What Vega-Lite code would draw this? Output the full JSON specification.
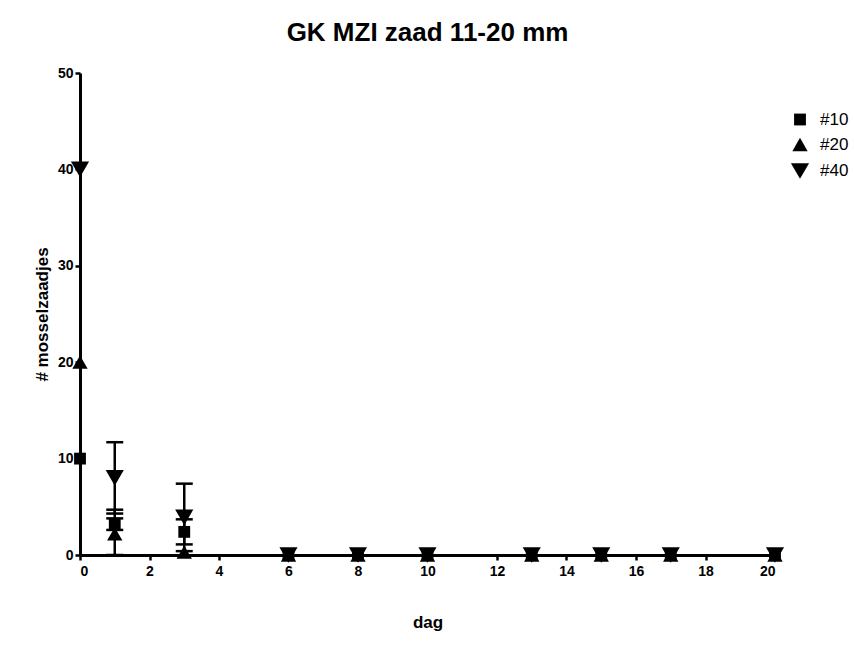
{
  "$schema": "https://vega.github.io/schema/vega-lite/v6.json",
  "width": 695,
  "height": 482,
  "autosize": {"type": "none"},
  "padding": {"left": 80, "top": 73, "right": 79, "bottom": 98},
  "background": "white",
  "title": {
    "text": "GK MZI zaad 11-20 mm",
    "font": "Liberation Sans",
    "fontSize": 26,
    "fontWeight": "bold",
    "color": "black",
    "anchor": "middle",
    "offset": 20
  },
  "config": {
    "view": {"stroke": null},
    "axis": {
      "grid": false,
      "domainColor": "black",
      "domainWidth": 3,
      "tickColor": "black",
      "tickWidth": 2.5,
      "tickSize": 5,
      "labelFont": "Liberation Sans",
      "labelFontWeight": "bold",
      "labelFontSize": 14,
      "labelColor": "black",
      "titleFont": "Liberation Sans",
      "titleFontWeight": "bold",
      "titleFontSize": 17,
      "titleColor": "black"
    }
  },
  "datasets": {
    "pts": [
      {"dag": 0, "groep": "#10", "n": 10},
      {"dag": 0, "groep": "#20", "n": 20},
      {"dag": 0, "groep": "#40", "n": 40},
      {"dag": 1, "groep": "#10", "n": 3.2},
      {"dag": 1, "groep": "#20", "n": 2.2},
      {"dag": 1, "groep": "#40", "n": 8.0},
      {"dag": 3, "groep": "#10", "n": 2.4},
      {"dag": 3, "groep": "#20", "n": 0.3},
      {"dag": 3, "groep": "#40", "n": 3.9},
      {"dag": 6, "groep": "#10", "n": 0},
      {"dag": 6, "groep": "#20", "n": 0},
      {"dag": 6, "groep": "#40", "n": 0},
      {"dag": 8, "groep": "#10", "n": 0},
      {"dag": 8, "groep": "#20", "n": 0},
      {"dag": 8, "groep": "#40", "n": 0},
      {"dag": 10, "groep": "#10", "n": 0},
      {"dag": 10, "groep": "#20", "n": 0},
      {"dag": 10, "groep": "#40", "n": 0},
      {"dag": 13, "groep": "#10", "n": 0},
      {"dag": 13, "groep": "#20", "n": 0},
      {"dag": 13, "groep": "#40", "n": 0},
      {"dag": 15, "groep": "#10", "n": 0},
      {"dag": 15, "groep": "#20", "n": 0},
      {"dag": 15, "groep": "#40", "n": 0},
      {"dag": 17, "groep": "#10", "n": 0},
      {"dag": 17, "groep": "#20", "n": 0},
      {"dag": 17, "groep": "#40", "n": 0},
      {"dag": 20, "groep": "#10", "n": 0},
      {"dag": 20, "groep": "#20", "n": 0},
      {"dag": 20, "groep": "#40", "n": 0}
    ],
    "err": [
      {"dag": 1, "groep": "#10", "lo": 2.6, "hi": 3.8},
      {"dag": 1, "groep": "#20", "lo": 0, "hi": 4.7},
      {"dag": 1, "groep": "#40", "lo": 4.3, "hi": 11.7},
      {"dag": 3, "groep": "#10", "lo": 1.1, "hi": 3.7},
      {"dag": 3, "groep": "#40", "lo": 0.4, "hi": 7.4}
    ]
  },
  "encoding": {
    "x": {
      "field": "dag",
      "type": "quantitative",
      "scale": {"domain": [0, 20], "nice": false, "zero": false},
      "axis": {"values": [0, 2, 4, 6, 8, 10, 12, 14, 16, 18, 20], "title": "dag", "titlePadding": 36, "labelPadding": 4}
    }
  },
  "layer": [
    {
      "data": {"name": "err"},
      "mark": {"type": "rule", "color": "black", "strokeWidth": 2.5},
      "encoding": {
        "y": {"field": "lo", "type": "quantitative", "scale": {"domain": [0, 50], "nice": false}},
        "y2": {"field": "hi"}
      }
    },
    {
      "data": {"name": "err"},
      "mark": {"type": "tick", "orient": "horizontal", "color": "black", "size": 17, "thickness": 2.5, "opacity": 1},
      "encoding": {
        "y": {"field": "hi", "type": "quantitative"}
      }
    },
    {
      "data": {"name": "err"},
      "mark": {"type": "tick", "orient": "horizontal", "color": "black", "size": 17, "thickness": 2.5, "opacity": 1},
      "encoding": {
        "y": {"field": "lo", "type": "quantitative"}
      }
    },
    {
      "data": {"name": "pts"},
      "mark": {"type": "point", "filled": true, "color": "black", "opacity": 1, "clip": false},
      "encoding": {
        "y": {
          "field": "n",
          "type": "quantitative",
          "scale": {"domain": [0, 50], "nice": false},
          "axis": {"values": [0, 10, 20, 30, 40, 50], "title": "# mosselzaadjes", "titlePadding": 6, "labelPadding": 2}
        },
        "shape": {
          "field": "groep",
          "type": "nominal",
          "scale": {"domain": ["#10", "#20", "#40"], "range": ["square", "triangle-up", "triangle-down"]},
          "legend": {
            "title": null,
            "orient": "none",
            "legendX": 710,
            "legendY": 38,
            "symbolFillColor": "black",
            "symbolStrokeColor": "black",
            "labelFont": "Liberation Sans",
            "labelFontSize": 17,
            "labelColor": "black",
            "rowPadding": 5,
            "labelOffset": 10
          }
        },
        "size": {
          "field": "groep",
          "type": "nominal",
          "scale": {"domain": ["#10", "#20", "#40"], "range": [140, 330, 270]},
          "legend": {
            "title": null,
            "orient": "none",
            "legendX": 710,
            "legendY": 38,
            "symbolFillColor": "black",
            "symbolStrokeColor": "black",
            "labelFont": "Liberation Sans",
            "labelFontSize": 17,
            "labelColor": "black",
            "rowPadding": 5,
            "labelOffset": 10
          }
        }
      }
    }
  ]
}
